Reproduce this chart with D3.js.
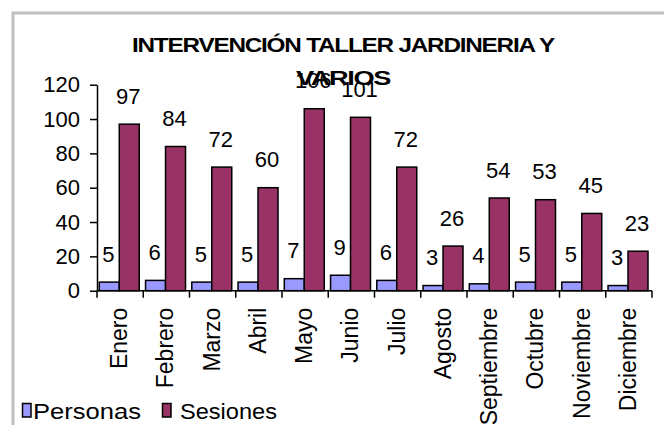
<!DOCTYPE html>
<html>
<head>
<meta charset="utf-8">
<script src="https://cdn.jsdelivr.net/npm/d3@7"></script>
<style>
  body { margin: 0; background: #fff; }
  svg { display: block; font-family: "Liberation Sans", Arial, sans-serif; }
</style>
</head>
<body>
<svg id="chart" width="664" height="425"></svg>
<script>
// Chart data
const months = ["Enero", "Febrero", "Marzo", "Abril", "Mayo", "Junio", "Julio",
  "Agosto", "Septiembre", "Octubre", "Noviembre", "Diciembre"];
const personas = [5, 6, 5, 5, 7, 9, 6, 3, 4, 5, 5, 3];
const sesiones = [97, 84, 72, 60, 106, 101, 72, 26, 54, 53, 45, 23];
const seriesNames = ["Personas", "Sesiones"];
const yTicks = [0, 20, 40, 60, 80, 100, 120];
const titleLines = ["INTERVENCIÓN TALLER JARDINERIA Y", "VARIOS"];

const colors = { Personas: "#9999ff", Sesiones: "#993366" };

const svg = d3.select("#chart");

// outer frame (runs off the right and bottom edges)
svg.append("rect")
  .attr("x", 13).attr("y", 13)
  .attr("width", 700).attr("height", 500)
  .attr("fill", "none")
  .attr("stroke", "#c0c0c0")
  .attr("stroke-width", 3);

const plot = { left: 97, right: 652, top: 84.7, bottom: 290.7 };

const x = d3.scaleBand()
  .domain(months)
  .range([plot.left, plot.right])
  .padding(0);

const bw = x.bandwidth();
const xInner = d3.scaleBand()
  .domain(seriesNames)
  .range([2.3, bw - 4])
  .padding(0);

const y = d3.scaleLinear()
  .domain([0, 120])
  .range([plot.bottom, plot.top]);

const rows = months.map((m, i) => ({
  month: m,
  values: [
    { key: "Personas", value: personas[i] },
    { key: "Sesiones", value: sesiones[i] },
  ],
}));

// bars
const groups = svg.append("g")
  .selectAll("g")
  .data(rows)
  .enter()
  .append("g")
  .attr("transform", (d) => `translate(${x(d.month)},0)`);

groups.selectAll("rect")
  .data((d) => d.values)
  .enter()
  .append("rect")
  .attr("x", (d) => xInner(d.key))
  .attr("y", (d) => y(d.value))
  .attr("width", xInner.bandwidth())
  .attr("height", (d) => y(0) - y(d.value))
  .attr("fill", (d) => colors[d.key])
  .attr("stroke", "#000")
  .attr("stroke-width", 1.5);

// Y axis
const yAxis = svg.append("g")
  .attr("transform", `translate(${plot.left},0)`)
  .call(d3.axisLeft(y).tickValues(yTicks).tickSize(7).tickPadding(10).tickSizeOuter(0));
yAxis.select(".domain").attr("stroke", "#000").attr("stroke-width", 1.5);
yAxis.selectAll(".tick line").attr("stroke", "#000").attr("stroke-width", 1.5);
yAxis.selectAll("text")
  .attr("fill", "#000")
  .style("font-size", "22px")
  .style("font-family", "'Liberation Sans', Arial, sans-serif");

// X axis: ticks on category boundaries
const xAxis = svg.append("g").attr("transform", `translate(0,${plot.bottom})`);
xAxis.append("line")
  .attr("x1", plot.left).attr("x2", plot.right)
  .attr("stroke", "#000").attr("stroke-width", 1.5);
xAxis.selectAll(".xtick")
  .data(months.concat(["end"]))
  .enter()
  .append("line")
  .attr("class", "xtick")
  .attr("x1", (d, i) => plot.left + i * bw)
  .attr("x2", (d, i) => plot.left + i * bw)
  .attr("y1", 0).attr("y2", 7)
  .attr("stroke", "#000").attr("stroke-width", 1.5);

xAxis.selectAll(".xlabel")
  .data(months)
  .enter()
  .append("text")
  .attr("class", "xlabel")
  .attr("transform", (d) => `translate(${x(d) + bw / 2 + 7},${17}) rotate(-90)`)
  .attr("text-anchor", "end")
  .style("font-size", "23px")
  .text((d) => d);

// value labels
groups.selectAll(".val")
  .data((d) => d.values)
  .enter()
  .append("text")
  .attr("class", "val")
  .attr("x", (d) => xInner(d.key) + xInner.bandwidth() / 2 - 1)
  .attr("y", (d) => y(d.value) - 20.5)
  .attr("text-anchor", "middle")
  .style("font-size", "22px")
  .text((d) => d.value);

// title
svg.append("g")
  .selectAll("text")
  .data(titleLines)
  .enter()
  .append("text")
  .attr("x", 343)
  .attr("y", (d, i) => 52 + i * 33)
  .attr("text-anchor", "middle")
  .attr("textLength", (d, i) => (i === 0 ? 422 : 94))
  .attr("lengthAdjust", "spacingAndGlyphs")
  .style("font-size", "20px")
  .style("font-weight", "bold")
  .style("letter-spacing", "-1px")
  .text((d) => d);

// legend
const legendItems = [
  { key: "Personas", sx: 22.5, tx: 33, w: 108 },
  { key: "Sesiones", sx: 162.5, tx: 180, w: 97 },
];
const legend = svg.append("g");
legend.selectAll("rect")
  .data(legendItems)
  .enter()
  .append("rect")
  .attr("x", (d) => d.sx)
  .attr("y", 403.5)
  .attr("width", 8.5)
  .attr("height", 13.5)
  .attr("fill", (d) => colors[d.key])
  .attr("stroke", "#000")
  .attr("stroke-width", 1.5);
legend.selectAll("text")
  .data(legendItems)
  .enter()
  .append("text")
  .attr("x", (d) => d.tx)
  .attr("y", 419)
  .attr("textLength", (d) => d.w)
  .attr("lengthAdjust", "spacingAndGlyphs")
  .style("font-size", "22px")
  .text((d) => d.key);
</script>
</body>
</html>
